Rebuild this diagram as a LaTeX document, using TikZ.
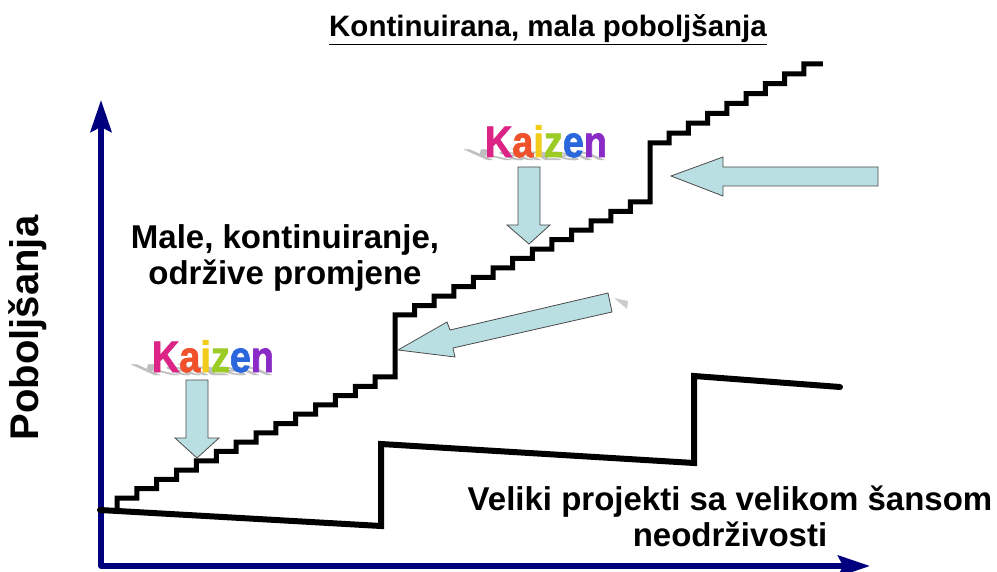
\documentclass[tikz,border=0pt]{standalone}
\usepackage{fontspec}
\setmainfont{Liberation Sans}
\newfontfamily\kaizenfont[FakeBold=1.6]{Liberation Sans Bold}
\usetikzlibrary{arrows.meta}
\definecolor{axisblue}{HTML}{00007F}
\definecolor{arrowfill}{HTML}{BADFE2}
\definecolor{arrowline}{HTML}{4A4A4A}
\definecolor{kK}{HTML}{DC2486}
\definecolor{kA}{HTML}{F0502A}
\definecolor{kI}{HTML}{F2CC1A}
\definecolor{kZ}{HTML}{9CCB26}
\definecolor{kE}{HTML}{2A66DC}
\definecolor{kN}{HTML}{8A2BC8}
\newcommand{\kaizenword}{\textcolor{kK}{K}\textcolor{kA}{a}\textcolor{kI}{i}\textcolor{kZ}{z}\textcolor{kE}{e}\textcolor{kN}{n}}
\tikzset{%
  axisline/.style={draw=axisblue, line width=5.5pt, line join=round, {Stealth[length=32pt,width=21pt,inset=5pt]}-{Stealth[length=32pt,width=21pt,inset=5pt]}},
  stairline/.style={line width=5pt, line join=miter},
  projline/.style={line width=6pt, line join=miter, line cap=round},
  blockarrow/.style={fill=arrowfill, draw=arrowline, line width=0.8pt},
  bigtext/.style={font=\bfseries\fontsize{33}{36}\selectfont, align=center, inner sep=0pt},
  kaizen/.style={font=\kaizenfont\fontsize{44}{44}\selectfont, xscale=0.86, inner sep=0pt},
  kaizenshadow/.style={kaizen, text=black!25, yscale=0.35, xslant=-0.9}
}

\begin{document}
\begin{tikzpicture}[x=1pt, y=-1pt]
  \useasboundingbox (0,0) rectangle (997,572);

% Achsen
\coordinate (O) at (101,566);
\coordinate (Ytop) at (101,100);
\coordinate (Xend) at (870,566);
\draw [axisline] (Ytop) -- (O) -- (Xend);

% grosse Projekte
\draw [projline] (100,510) -- (381,526) -- (381,444) -- (694,463) -- (694,376) -- (840,387);

% Kaizen Treppe
\coordinate (stairstart) at (117,508);
\draw [stairline] (stairstart) -- (117,498)
  \foreach \k in {1,...,13} { -- ++(19.86,0) -- ++(0,-9.31) }
  -- ++(19.86,0) -- (395,315)
  \foreach \k in {1,...,12} { -- ++(19.62,0) -- ++(0,-9.42) }
  -- ++(19.62,0) -- (650,143)
  \foreach \k in {1,...,8} { -- ++(19.22,0) -- ++(0,-9.88) }
  -- ++(19.22,0);

% Pfeile
\draw [blockarrow] (518,167) -- (540,167) -- (540,225) -- (550,225) -- (529,244) -- (507,225) -- (518,225) -- cycle;
\draw [blockarrow] (186,380) -- (208,380) -- (208,438) -- (219,438) -- (197,458) -- (175,438) -- (186,438) -- cycle;
\draw [blockarrow] (878,167) -- (878,186) -- (723,186) -- (723,196) -- (671,176) -- (723,157) -- (723,167) -- cycle;
\draw [blockarrow] (608,293) -- (612,312) -- (453,348) -- (455,357) -- (398,350) -- (447,322) -- (450,330) -- cycle;
\fill [black!20] (614,298) -- (628,301) -- (627,309) -- cycle;

% Texte
\node (title) [anchor=base, font=\bfseries\fontsize{29.5}{32}\selectfont] at (548,37) {\underline{Kontinuirana, mala poboljšanja}};
\node (male) [bigtext, anchor=north] at (285,224) {Male, kontinuiranje,\\održive promjene};
\node (veliki) [bigtext, anchor=north] at (730,486) {Veliki projekti sa velikom šansom\\neodrživosti};
\node (ylabel) [rotate=90, font=\bfseries\fontsize{40}{40}\selectfont, inner sep=0pt] at (28,328) {Poboljšanja};

\node [kaizenshadow, anchor=base] at (546,160) {Kaizen};
\node (kaizenA) [kaizen, anchor=base] at (546,157) {\kaizenword};
\node [kaizenshadow, anchor=base] at (213,375) {Kaizen};
\node (kaizenB) [kaizen, anchor=base] at (213,372) {\kaizenword};
\end{tikzpicture}
\end{document}
